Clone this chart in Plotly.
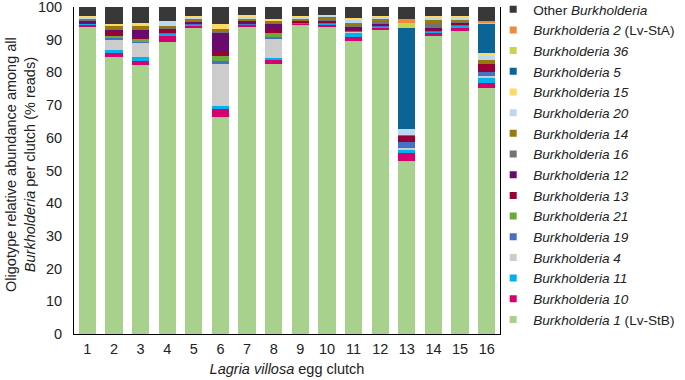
import plotly.graph_objects as go

clutches = list(range(1, 17))
tick_labels = [str(c) for c in clutches]

B1  = [94.0, 84.6, 82.2, 89.4, 93.8, 66.3, 94.0, 82.6, 94.5, 94.0, 89.7, 93.0, 52.8, 91.0, 92.8, 75.1]
B10 = [0.6, 1.2, 1.4, 1.7, 0.6, 2.4, 0.5, 1.2, 0.4, 0.6, 1.1, 0.7, 2.6, 1.2, 1.0, 1.8]
B11 = [0.3, 1.2, 1.0, 0.8, 0.3, 1.0, 0.2, 0.7, 0.2, 0.5, 1.3, 0.3, 1.0, 0.3, 0.6, 1.3]
B4  = [0.0, 3.1, 4.6, 0.0, 0.0, 12.9, 0.0, 5.6, 0.0, 0.0, 0.3, 0.0, 0.5, 0.0, 0.0, 0.7]
B19 = [0.2, 0.6, 0.4, 0.3, 0.2, 1.0, 0.2, 0.8, 0.2, 0.2, 0.3, 0.2, 1.7, 0.2, 0.2, 1.3]
B21 = [0.0, 0.3, 0.5, 0.0, 0.0, 1.3, 0.0, 1.2, 0.0, 0.0, 0.0, 0.0, 0.0, 0.0, 0.0, 0.0]
B13 = [0.3, 1.5, 0.7, 1.0, 0.3, 1.5, 0.5, 1.2, 0.3, 0.3, 0.6, 0.5, 2.0, 0.4, 0.3, 2.4]
B12 = [0.5, 0.5, 2.2, 0.3, 0.5, 5.9, 0.4, 1.8, 0.2, 0.4, 0.8, 0.3, 0.2, 0.5, 0.3, 0.0]
B16 = [0.2, 0.3, 0.3, 0.4, 0.2, 0.3, 0.2, 0.3, 0.2, 0.2, 0.3, 0.3, 0.2, 1.2, 0.3, 0.0]
B14 = [0.4, 1.0, 1.0, 0.4, 0.6, 0.6, 0.6, 0.6, 0.6, 0.6, 0.8, 0.9, 0.0, 1.5, 0.7, 1.2]
B20 = [0.5, 0.2, 0.3, 1.2, 0.4, 0.0, 0.6, 0.0, 0.6, 0.7, 1.0, 0.8, 1.7, 0.6, 0.6, 1.5]
B15 = [0.2, 0.3, 0.5, 0.2, 0.3, 1.5, 0.3, 0.3, 0.2, 0.2, 0.5, 0.3, 0.0, 0.2, 0.3, 0.5]
B5  = [0.0, 0.0, 0.0, 0.0, 0.0, 0.0, 0.0, 0.0, 0.0, 0.0, 0.0, 0.0, 30.8, 0.0, 0.0, 9.2]
B36 = [0.0, 0.0, 0.0, 0.0, 0.0, 0.0, 0.0, 0.0, 0.0, 0.0, 0.0, 0.0, 1.6, 0.0, 0.0, 0.3]
B2  = [0.0, 0.0, 0.0, 0.0, 0.0, 0.0, 0.0, 0.0, 0.0, 0.0, 0.0, 0.0, 1.2, 0.0, 0.0, 0.4]
OTHER = [2.8, 5.2, 4.9, 4.3, 2.8, 5.3, 2.5, 3.7, 2.6, 2.3, 3.3, 2.7, 3.7, 2.9, 2.9, 4.3]

series = [
    ("<i>Burkholderia 1</i> (Lv-StB)", B1, "#a9d18e"),
    ("<i>Burkholderia 10</i>", B10, "#d6006e"),
    ("<i>Burkholderia 11</i>", B11, "#00b0f0"),
    ("<i>Burkholderia 4</i>", B4, "#cccccc"),
    ("<i>Burkholderia 19</i>", B19, "#4472c4"),
    ("<i>Burkholderia 21</i>", B21, "#6aaa3c"),
    ("<i>Burkholderia 13</i>", B13, "#990033"),
    ("<i>Burkholderia 12</i>", B12, "#6b0a6e"),
    ("<i>Burkholderia 16</i>", B16, "#737373"),
    ("<i>Burkholderia 14</i>", B14, "#967a0e"),
    ("<i>Burkholderia 20</i>", B20, "#bdd7ee"),
    ("<i>Burkholderia 15</i>", B15, "#ffd966"),
    ("<i>Burkholderia 5</i>", B5, "#0b6496"),
    ("<i>Burkholderia 36</i>", B36, "#c8d44a"),
    ("<i>Burkholderia 2</i> (Lv-StA)", B2, "#f08a3c"),
    ("Other <i>Burkholderia</i>", OTHER, "#383838"),
]

y_title = "Oligotype relative abundance among all<br><i>Burkholderia</i> per clutch (% reads)"
x_title = "<i>Lagria villosa</i> egg clutch"

fig = go.Figure()
for name, vals, col in series:
    fig.add_trace(go.Bar(x=clutches, y=vals, marker=dict(color=col, line=dict(width=0)),
                         width=0.65, showlegend=False, name=name))
for name, vals, col in series:
    fig.add_trace(go.Scatter(x=[None], y=[None], mode="markers", name=name,
                             marker=dict(symbol="square", size=7, color=col)))

fig.add_annotation(text=y_title, textangle=-90, xref="paper", yref="paper",
                   x=-0.1244, y=0.517, xanchor="center", yanchor="middle",
                   showarrow=False, font=dict(size=14.5))

fig.update_layout(
    barmode="stack",
    width=685, height=380,
    margin=dict(l=74, r=185, t=7, b=46, autoexpand=False),
    plot_bgcolor="white", paper_bgcolor="white",
    font=dict(family="Liberation Sans, Arial, sans-serif", size=14.5, color="#222"),
    legend=dict(traceorder="reversed", x=0.984, xanchor="left", yref="paper", y=1.04,
                yanchor="top", font=dict(size=13.6), itemsizing="trace", maxheight=420,
                bgcolor="rgba(0,0,0,0)", borderwidth=0),
    xaxis=dict(range=[0.5, 16.5], tickmode="array", tickvals=clutches, ticktext=tick_labels,
               showline=True, linecolor="black", linewidth=1, showgrid=False, zeroline=False,
               ticks="", ticklabelstandoff=2, automargin=False,
               title=dict(text=x_title, standoff=7, font=dict(size=14.5))),
    yaxis=dict(range=[0, 100], tickmode="array", tickvals=list(range(0, 101, 10)),
               showline=True, linecolor="black", linewidth=1, mirror=True, showgrid=False,
               zeroline=False, ticks="", ticklabelstandoff=8, automargin=False,
               ticklabeloverflow="allow"),
)

fig.write_html("out.html", config={"displayModeBar": False},
               post_script="document.body.style.margin='0px';")
